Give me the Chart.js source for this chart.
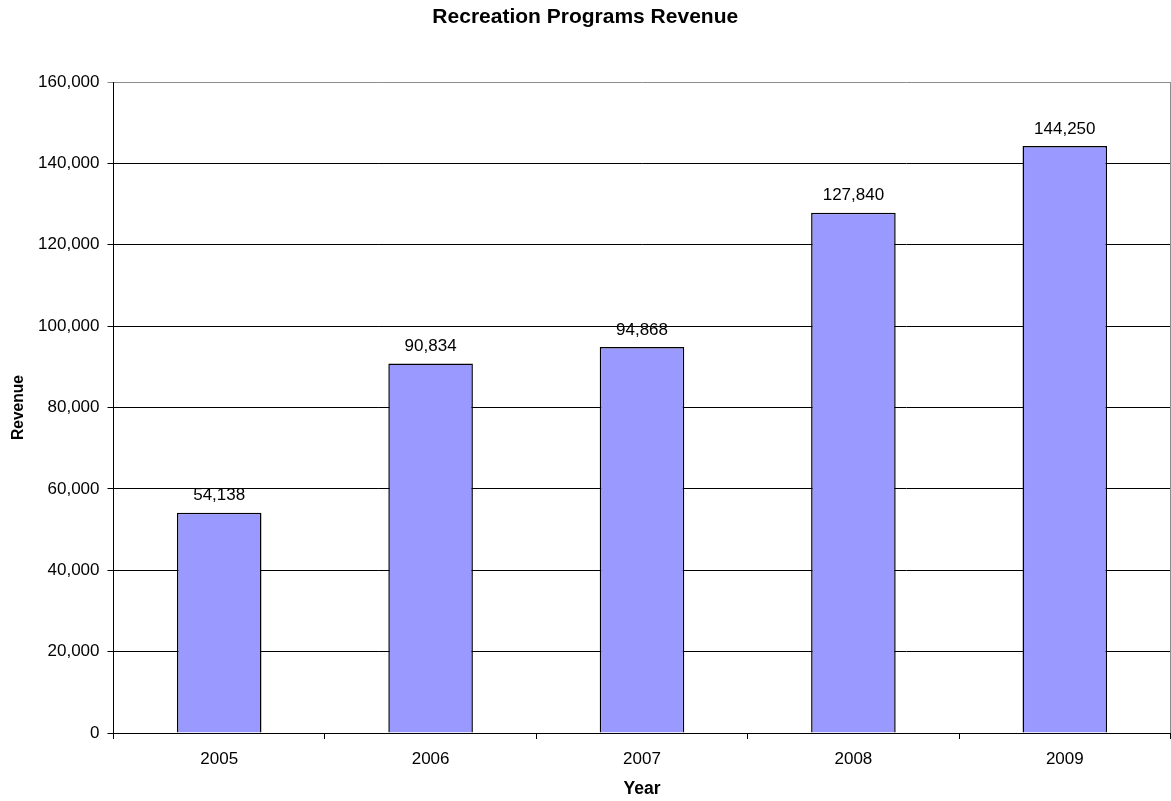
<!DOCTYPE html>
<html>
<head>
<meta charset="utf-8">
<title>Recreation Programs Revenue</title>
<script src="https://cdn.jsdelivr.net/npm/chart.js@4/dist/chart.umd.min.js"></script>
<style>
  html, body { margin: 0; padding: 0; background: #fff; }
  canvas { display: block; }
</style>
</head>
<body>
<canvas id="revenueChart" width="1171" height="801"></canvas>
<script>
const years = ['2005', '2006', '2007', '2008', '2009'];
const revenue = [54138, 90834, 94868, 127840, 144250];
const yMin = 0;
const yMax = 160000;
const yStep = 20000;

const FONT = "'Liberation Sans', Arial, sans-serif";

// gray frame on the right side of the plot
const plotFrame = {
    id: 'plotFrame',
    beforeDatasetsDraw(chart) {
        const { ctx, chartArea: { top, bottom, right } } = chart;
        ctx.save();
        ctx.strokeStyle = '#8c8c8c';
        ctx.lineWidth = 1;
        ctx.beginPath();
        ctx.moveTo(right, top);
        ctx.lineTo(right, bottom);
        ctx.stroke();
        ctx.restore();
    }
};

// value written above each bar
const barValues = {
    id: 'barValues',
    afterDatasetsDraw(chart) {
        const { ctx } = chart;
        ctx.save();
        ctx.font = '17px ' + FONT;
        ctx.fillStyle = '#000';
        ctx.textAlign = 'center';
        ctx.textBaseline = 'alphabetic';
        chart.getDatasetMeta(0).data.forEach((bar, i) => {
            ctx.fillText(revenue[i].toLocaleString('en-US'), bar.x, bar.y - 12.5);
        });
        ctx.restore();
    }
};

const revenueData = {
    labels: years,
    datasets: [
        {
            label: 'Revenue',
            data: revenue,
            backgroundColor: '#9999ff',
            borderColor: '#000',
            borderWidth: 1.5,
            categoryPercentage: 1,
            barPercentage: 0.4
        }
    ]
};

const revenueConfig = {
    type: 'bar',
    data: revenueData,
    plugins: [plotFrame, barValues],
    options: {
        responsive: false,
        animation: false,
        layout: { padding: { top: 0, right: 0.5, bottom: 0, left: 0 } },
        plugins: {
            legend: { display: false },
            tooltip: { enabled: false },
            title: {
                display: true,
                text: 'Recreation Programs Revenue',
                color: '#000',
                font: { family: FONT, size: 21, weight: 'bold' },
                padding: { top: 5, bottom: 51.8 }
            }
        },
        scales: {
            x: {
                afterFit(scale) { scale.height = 68; },
                grid: {
                    offset: true,
                    drawOnChartArea: false,
                    color: '#000',
                    tickLength: 6
                },
                border: { color: '#000', width: 1 },
                ticks: {
                    color: '#000',
                    padding: 10,
                    font: { family: FONT, size: 17 }
                },
                title: {
                    display: true,
                    text: 'Year',
                    color: '#000',
                    font: { family: FONT, size: 17.5, weight: 'bold' },
                    padding: { top: 0, bottom: 1.5 }
                }
            },
            y: {
                min: yMin,
                max: yMax,
                afterFit(scale) { scale.width = 113.5; },
                grid: {
                    color: ctx => (ctx.tick && ctx.tick.value === yMax) ? '#8c8c8c' : '#000',
                    tickLength: 6
                },
                border: { color: '#000', width: 1 },
                ticks: {
                    stepSize: yStep,
                    color: '#000',
                    padding: 8,
                    font: { family: FONT, size: 17 }
                },
                title: {
                    display: true,
                    text: 'Revenue',
                    color: '#000',
                    font: { family: FONT, size: 15.6, weight: 'bold' },
                    padding: { top: 9.7, bottom: 0 }
                }
            }
        }
    }
};

const revenueChart = new Chart(document.getElementById('revenueChart'), revenueConfig);
</script>
</body>
</html>
